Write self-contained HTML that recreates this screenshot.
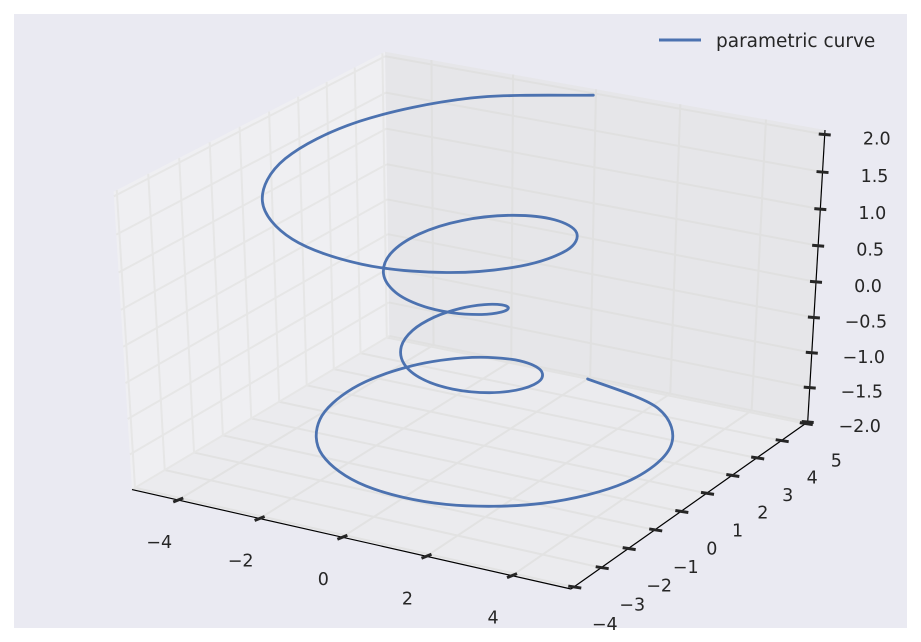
<!DOCTYPE html>
<html><head><meta charset="utf-8"><style>
html,body{margin:0;padding:0;background:#fff}
svg{display:block;font-family:"DejaVu Sans","Liberation Sans",sans-serif}
</style></head><body>
<svg id="chart" width="921" height="642" viewBox="0 0 921 642" xmlns="http://www.w3.org/2000/svg">
<rect x="14" y="14" width="893" height="614" fill="#eaeaf2"/>
<g id="panes"></g>
<g id="grid"></g>
<g id="axes"></g>
<g id="series"></g>
<g>
<line x1="659" y1="40" x2="701" y2="40" stroke="#4c72b0" stroke-width="3"/>
<text x="716" y="47" font-size="18.5" fill="#262626">parametric curve</text>
</g>
</svg>
<script>
// Curve data (x, y, z)
const xs = [0,2.337,3.777,4.063,3.272,1.753,0,-1.503,-2.406,-2.563,-2.045,-1.087,0,0.920,1.467,1.563,1.251,0.670,0,-0.587,-0.962,-1.063,-0.890,-0.503,0,0.503,0.890,1.063,0.962,0.587,0,-0.670,-1.251,-1.563,-1.467,-0.920,0,1.087,2.045,2.563,2.406,1.503,0,-1.753,-3.272,-4.063,-3.777,-2.337,0];
const ys = [5,4.048,2.181,0,-1.889,-3.037,-3.25,-2.604,-1.389,0,1.181,1.883,2,1.594,0.847,0,-0.722,-1.160,-1.25,-1.017,-0.556,0,0.514,0.872,1,0.872,0.514,0,-0.556,-1.017,-1.25,-1.160,-0.722,0,0.847,1.594,2,1.883,1.181,0,-1.389,-2.604,-3.25,-3.037,-1.889,0,2.181,4.048,5];
const zs = [-2,-1.917,-1.833,-1.75,-1.667,-1.583,-1.5,-1.417,-1.333,-1.25,-1.167,-1.083,-1,-0.917,-0.833,-0.75,-0.667,-0.583,-0.5,-0.417,-0.333,-0.25,-0.167,-0.083,0,0.083,0.167,0.25,0.333,0.417,0.5,0.583,0.667,0.75,0.833,0.917,1,1.083,1.167,1.25,1.333,1.417,1.5,1.583,1.667,1.75,1.833,1.917,2];
const xTicks = [-4,-2,0,2,4];
const yTicks = [-4,-3,-2,-1,0,1,2,3,4,5];
const zTicks = [-2,-1.5,-1,-0.5,0,0.5,1,1.5,2];
const xTickLabels = ["\u22124","\u22122","0","2","4"];
const yTickLabels = ["\u22124","\u22123","\u22122","\u22121","0","1","2","3","4","5"];
const zTickLabels = ["\u22122.0","\u22121.5","\u22121.0","\u22120.5","0.0","0.5","1.0","1.5","2.0"];

const XMIN=-5.15,XMAX=5.36,YMIN=-4.1,YMAX=5.1,ZMIN=-2.0,ZMAX=2.06;
const EL=31*Math.PI/180, AZ=-60*Math.PI/180, DIST=10;
const W=[Math.cos(EL)*Math.cos(AZ),Math.cos(EL)*Math.sin(AZ),Math.sin(EL)];
const U=[-Math.sin(AZ),Math.cos(AZ),0];
const V=[-Math.sin(EL)*Math.cos(AZ),-Math.sin(EL)*Math.sin(AZ),Math.cos(EL)];
function raw(x,y,z){
  const n=[(x-XMIN)/(XMAX-XMIN)-.5,(y-YMIN)/(YMAX-YMIN)-.5,(z-ZMIN)/(ZMAX-ZMIN)-.5];
  const dot=a=>n[0]*a[0]+n[1]*a[1]+n[2]*a[2];
  const f=DIST-dot(W);
  return [dot(U)/f,dot(V)/f];
}
const s1=raw(XMIN,YMIN,ZMIN),s2=raw(XMAX,YMIN,ZMIN),s3=raw(XMAX,YMAX,ZMAX);
const KX=(571-132)/(s2[0]-s1[0]), A=132-KX*s1[0];
const KY=(589-130)/(s3[1]-s2[1]), B=589+KY*s2[1];
function P(x,y,z){const s=raw(x,y,z);return [A+KX*s[0],B-KY*s[1]];}
const NS='http://www.w3.org/2000/svg';
function mk(tag,attrs,parent){const e=document.createElementNS(NS,tag);for(const k in attrs)e.setAttribute(k,attrs[k]);parent.appendChild(e);return e;}
function poly(pts){return pts.map(p=>p[0].toFixed(1)+','+p[1].toFixed(1)).join(' ');}

const panes=document.getElementById('panes');
let e;
e=mk('polygon',{points:poly([P(XMIN,YMIN,ZMIN),P(XMIN,YMAX,ZMIN),P(XMIN,YMAX,ZMAX),P(XMIN,YMIN,ZMAX)]),fill:'#efeff2'},panes);


e=mk('polygon',{points:poly([P(XMIN,YMAX,ZMIN),P(XMAX,YMAX,ZMIN),P(XMAX,YMAX,ZMAX),P(XMIN,YMAX,ZMAX)]),fill:'#e6e6e9'},panes);


e=mk('polygon',{points:poly([P(XMIN,YMIN,ZMIN),P(XMAX,YMIN,ZMIN),P(XMAX,YMAX,ZMIN),P(XMIN,YMAX,ZMIN)]),fill:'#ebebee'},panes);



const grid=document.getElementById('grid');
function gl(a,b,col){const l=mk('line',{x1:a[0],y1:a[1],x2:b[0],y2:b[1],stroke:col,'stroke-width':2},grid);

}
xTicks.forEach(x=>{gl(P(x,YMIN,ZMIN),P(x,YMAX,ZMIN),'#e2e2e2');gl(P(x,YMAX,ZMIN),P(x,YMAX,ZMAX),'#e0e0e0');});
yTicks.forEach(y=>{gl(P(XMIN,y,ZMIN),P(XMAX,y,ZMIN),'#e2e2e2');gl(P(XMIN,y,ZMIN),P(XMIN,y,ZMAX),'#e6e6e6');});
zTicks.forEach(z=>{gl(P(XMIN,YMIN,z),P(XMIN,YMAX,z),'#e6e6e6');gl(P(XMIN,YMAX,z),P(XMAX,YMAX,z),'#e0e0e0');});

const axes=document.getElementById('axes');
function al(a,b,name){const l=mk('line',{x1:a[0],y1:a[1],x2:b[0],y2:b[1],stroke:'#000','stroke-width':1.2},axes);

}
al(P(XMIN,YMIN,ZMIN),P(XMAX,YMIN,ZMIN),'x-axis-line');
al(P(XMAX,YMIN,ZMIN),P(XMAX,YMAX,ZMIN),'y-axis-line');
al(P(XMAX,YMAX,ZMIN),P(XMAX,YMAX,ZMAX),'z-axis-line');
function tick(p,dx,dy,name){const l=mk('line',{x1:p[0]-dx,y1:p[1]-dy,x2:p[0]+dx,y2:p[1]+dy,stroke:'#262626','stroke-width':3},axes);

}
function lab(p,txt,name){const t=mk('text',{x:p[0],y:p[1],'font-size':17.5,fill:'#262626','text-anchor':'middle','dominant-baseline':'central'},axes);t.textContent=txt;

}
xTicks.forEach((x,i)=>{const p=P(x,YMIN,ZMIN);tick(p,5,-2,'x-tick');lab([p[0]-19,p[1]+43],xTickLabels[i],'x-tick-label');});
yTicks.forEach((y,i)=>{const p=P(XMAX,y,ZMIN);tick([p[0]+1,p[1]],6.5,1,'y-tick');lab([p[0]+31,p[1]+38],yTickLabels[i],'y-tick-label');});
zTicks.forEach((z,i)=>{const p=P(XMAX,YMAX,z);tick(p,6,0.5,'z-tick');lab([p[0]+52,p[1]+5],zTickLabels[i],'z-tick-label');});

const series=document.getElementById('series');
const pts=xs.map((x,i)=>P(x,ys[i],zs[i]));
// smooth rendering through data points (Catmull-Rom)
let d='M'+pts[0][0].toFixed(1)+','+pts[0][1].toFixed(1);
for(let i=0;i<pts.length-1;i++){
  const p0=pts[Math.max(0,i-1)],p1=pts[i],p2=pts[i+1],p3=pts[Math.min(pts.length-1,i+2)];
  const c1=[p1[0]+(p2[0]-p0[0])/6,p1[1]+(p2[1]-p0[1])/6];
  const c2=[p2[0]-(p3[0]-p1[0])/6,p2[1]-(p3[1]-p1[1])/6];
  d+=' C'+c1[0].toFixed(1)+','+c1[1].toFixed(1)+' '+c2[0].toFixed(1)+','+c2[1].toFixed(1)+' '+p2[0].toFixed(1)+','+p2[1].toFixed(1);
}
const path=mk('path',{d:d,fill:'none',stroke:'#4c72b0','stroke-width':2.8,'stroke-linejoin':'round','stroke-linecap':'round'},series);


</script>
</body></html>
